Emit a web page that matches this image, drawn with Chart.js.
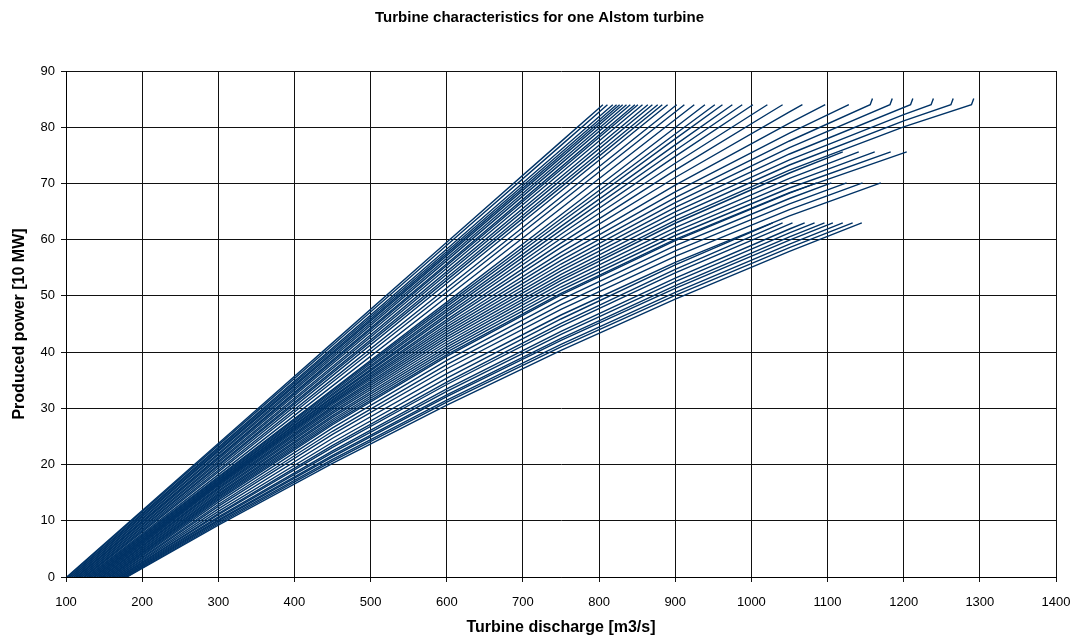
<!DOCTYPE html>
<html><head><meta charset="utf-8">
<script src="https://cdn.jsdelivr.net/npm/chart.js@4"></script>
<style>html,body{margin:0;padding:0;background:#fff}#wrap{width:1079px;height:640px}</style>
</head><body><div id="wrap"><canvas id="c" width="1079" height="640"></canvas></div>
<script>
// Turbine curves, listed from the top (highest) curve to the bottom one.
const startQ=[101,102,104,105,107,108,110,111,113,114,115,117,118,120,121,123,124,125,127,128,
130,131,133,134,136,137,138,140,141,143,144,146,147,148,150,151,153,154,156,157,
158,160,161,163,164,166,167,169,170,171,173,174,176,177,179,180];
const endQ=[805,811,818,823,827,831,836,841,847,851,857,864,870,877,883,890,902,912,925,939,
952,962,975,988,1002,1021,1041,1067,1097,1128,1156,1182,1209,1236,1262,1289,1120,1141,1162,1183,
1204,1086,1105,1125,1146,1170,1028,1041,1054,1070,1083,1096,1107,1120,1133,1145];
const endP=[84,84,84,84,84,84,84,84,84,84,84,84,84,84,84,84,84,84,84,84,
84,84,84,84,84,84,84,84,84,84,84,84,84,84,84,84,75.6,75.6,75.6,75.6,
75.6,70.1,70.1,70.1,70.1,70.1,63,63,63,63,63,63,63,63,63,63];
const hookQ=[null,null,null,null,null,null,null,null,null,null,null,null,null,null,null,null,null,null,null,null,
null,null,null,null,null,null,null,null,null,null,1159,1185,1212,1239,1265,1292,null,null,null,null,
null,null,null,null,null,null,null,null,null,null,null,null,null,null,null,null];
const hookP=[null,null,null,null,null,null,null,null,null,null,null,null,null,null,null,null,null,null,null,null,
null,null,null,null,null,null,null,null,null,null,85.1,85.1,85.1,85.1,85.1,85.1,null,null,null,null,
null,null,null,null,null,null,null,null,null,null,null,null,null,null,null,null];
// discharge values at which the power of each curve was read
const stationQ=[300,450,600,750,900,1050,1200];
const powerAtStation=[
[23.74,41.64,59.54,77.44,null,null,null],
[23.46,41.23,59.00,76.77,null,null,null],
[23.06,40.71,58.35,76.00,null,null,null],
[22.81,40.36,57.91,75.46,null,null,null],
[22.52,40.02,57.52,75.02,null,null,null],
[22.31,39.73,57.16,74.59,null,null,null],
[21.98,39.34,56.69,74.05,null,null,null],
[21.75,39.01,56.27,73.53,null,null,null],
[21.40,38.57,55.73,72.90,null,null,null],
[21.20,38.30,55.39,72.49,null,null,null],
[20.94,37.93,54.91,71.89,null,null,null],
[20.58,37.45,54.31,71.18,null,null,null],
[20.33,37.08,53.84,70.59,null,null,null],
[19.97,36.62,53.26,69.90,null,null,null],
[19.73,36.27,52.80,69.34,null,null,null],
[19.38,35.81,52.24,68.67,null,null,null],
[19.00,35.20,51.39,67.59,null,null,null],
[18.68,34.69,50.70,66.71,null,null,null],
[18.21,34.00,49.79,65.58,81.37,null,null],
[17.82,33.35,48.89,64.43,79.96,null,null],
[17.69,33.16,48.50,63.72,78.80,null,null],
[17.53,32.91,48.10,63.10,77.92,null,null],
[17.32,32.60,47.61,62.36,76.85,null,null],
[17.19,32.37,47.20,61.70,75.86,null,null],
[16.96,32.04,46.71,60.96,74.81,null,null],
[16.88,31.85,46.30,60.21,73.59,null,null],
[16.73,31.57,45.79,59.39,72.37,null,null],
[16.62,31.40,45.39,58.62,71.06,82.72,null],
[16.51,31.16,44.91,57.75,69.69,80.73,null],
[16.37,30.94,44.50,57.02,68.51,78.97,null],
[16.22,30.68,44.05,56.31,67.47,77.55,null],
[15.97,30.36,43.60,55.67,66.60,76.37,null],
[15.79,30.07,43.15,55.04,65.73,75.24,null],
[15.60,29.76,42.70,54.43,64.93,74.20,82.25],
[15.33,29.41,42.25,53.83,64.18,73.28,81.12],
[15.12,29.09,41.80,53.26,63.45,72.38,80.05],
[14.82,28.69,41.35,52.76,62.92,71.86,null],
[14.61,28.39,40.90,52.16,62.16,70.91,null],
[14.34,28.02,40.45,51.58,61.44,70.02,null],
[14.14,27.70,40.00,51.01,60.74,69.19,null],
[13.92,27.38,39.55,50.45,60.06,68.38,null],
[13.66,27.08,39.25,50.17,59.84,68.27,null],
[13.31,26.53,38.53,49.34,58.94,67.32,null],
[12.90,25.92,37.77,48.46,57.99,66.36,null],
[12.56,25.36,37.04,47.59,57.04,65.36,null],
[12.12,24.68,36.17,46.60,55.95,64.24,null],
[11.67,23.97,35.38,45.89,55.51,null,null],
[11.27,23.40,34.68,45.13,54.73,null,null],
[11.07,23.07,34.24,44.58,54.09,null,null],
[10.71,22.45,33.44,43.69,53.17,61.90,null],
[10.46,22.12,33.01,43.16,52.55,61.20,null],
[10.17,21.63,32.39,42.45,51.82,60.48,null],
[9.97,21.38,32.08,42.07,51.35,59.93,null],
[9.70,20.92,31.48,41.39,50.63,59.22,null],
[9.47,20.62,31.10,40.93,50.09,58.59,null],
[9.23,20.21,30.57,40.31,49.43,57.93,null]
];
const xTickValues=[100,200,300,400,500,600,700,800,900,1000,1100,1200,1300,1400];
const yTickValues=[0,10,20,30,40,50,60,70,80,90];

const FONT="'Liberation Sans', Arial, sans-serif";
const LINE='#003366';
const datasets=startQ.map((q0,i)=>{
  const pts=[{x:q0,y:0}];
  powerAtStation[i].forEach((p,k)=>{ if(p!==null) pts.push({x:stationQ[k],y:p}); });
  pts.push({x:endQ[i],y:endP[i]});
  if(hookQ[i]!==null) pts.push({x:hookQ[i],y:hookP[i]});
  return {data:pts,borderColor:LINE,borderWidth:1.4,pointRadius:0,pointHoverRadius:0,fill:false,tension:0};
});

new Chart(document.getElementById('c'),{
  type:'line',
  data:{datasets},
  options:{
    responsive:false,animation:false,devicePixelRatio:1,
    layout:{padding:{left:23,right:23,top:0,bottom:0}},
    plugins:{
      legend:{display:false},tooltip:{enabled:false},
      title:{display:true,text:'Turbine characteristics for one Alstom turbine',color:'#000',
        font:{family:FONT,size:15,weight:'bold'},padding:{top:9,bottom:44}}
    },
    scales:{
      x:{type:'linear',min:100,max:1400,
        afterBuildTicks:s=>{s.ticks=xTickValues.map(v=>({value:v}));},
        afterFit:s=>{s.height=63;s.paddingLeft=0;s.paddingRight=0;},
        ticks:{color:'#000',font:{family:FONT,size:13},padding:13,maxRotation:0,autoSkip:false,callback:v=>String(v)},
        grid:{color:'#111',lineWidth:1,tickLength:5},
        border:{color:'#000',width:1},
        title:{display:true,text:'Turbine discharge [m3/s]',color:'#000',
          font:{family:FONT,size:16,weight:'bold'},padding:{top:0,bottom:3}}
      },
      y:{type:'linear',min:0,max:90,
        afterBuildTicks:s=>{s.ticks=yTickValues.map(v=>({value:v}));},
        afterFit:s=>{s.width=43;s.paddingTop=0;s.paddingBottom=0;},
        ticks:{color:'#000',font:{family:FONT,size:13},padding:6,autoSkip:false,callback:v=>String(v)},
        grid:{color:'#111',lineWidth:1,tickLength:5},
        border:{color:'#000',width:1},
        title:{display:true,text:'Produced power [10 MW]',color:'#000',
          font:{family:FONT,size:16,weight:'bold'},padding:{top:-12.6,bottom:0}}
      }
    }
  }
});
</script></body></html>
